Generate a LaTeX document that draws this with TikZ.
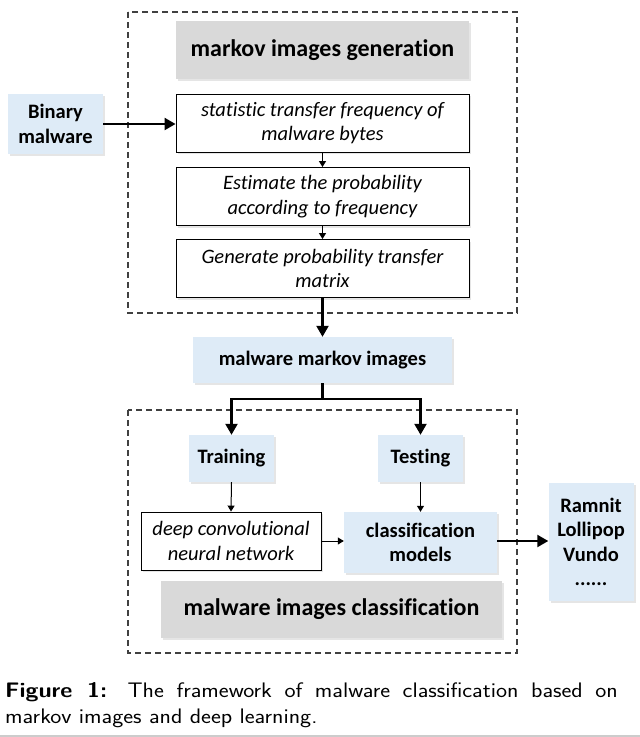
\documentclass[tikz,border=0pt]{standalone}
\usepackage{fontspec}
\setmainfont[Ligatures=NoCommon]{Carlito}
\usetikzlibrary{arrows.meta,shadows}
\definecolor{lblue}{HTML}{DEEBF7}
\definecolor{lgray}{HTML}{D9D9D9}
\definecolor{dashgray}{HTML}{404040}
\begin{document}
\begin{tikzpicture}[x=1pt,y=-1pt,
  sh/.style={drop shadow={shadow xshift=2pt,shadow yshift=-2pt,opacity=0.10,fill=black}},
  wbox/.style={sh,draw=black, line width=0.9pt, fill=white, inner sep=0pt, align=center,
     font=\itshape\fontsize{20.5}{24.5}\selectfont},
  bbox/.style={sh,fill=lblue, inner sep=0pt, align=center,
     font=\bfseries\fontsize{20.5}{24.5}\selectfont},
  gbox/.style={sh,fill=lgray, inner sep=0pt, align=center,
     font=\bfseries\fontsize{24}{28}\selectfont},
  bigarrow/.style={line width=2.2pt, -{Triangle[length=11pt,width=12pt]}},
  smallarrow/.style={line width=1pt, -{Triangle[length=6pt,width=7pt]}},
  dashbox/.style={draw=dashgray, line width=1.2pt, dash pattern=on 6pt off 4pt}]
\useasboundingbox (0,0) rectangle (640,737);
\fill[white] (0,0) rectangle (640,737);

% dashed frames
\draw[dashbox] (128,12) rectangle (517,313);
\draw[dashbox] (128,410) rectangle (517,653);

% generation part
\node[gbox, minimum width=293pt, minimum height=58pt] (gen) at (322.5,50) {markov images generation};
\node[wbox, minimum width=293pt, minimum height=58pt] (stat) at (322.5,123)
  {statistic transfer frequency of\\malware bytes};
\node[wbox, minimum width=293pt, minimum height=58pt] (est) at (322.5,196.5)
  {Estimate the probability\\according to frequency};
\node[wbox, minimum width=293pt, minimum height=58pt] (mat) at (322.5,268.5)
  {Generate probability transfer\\matrix};
\node[bbox, minimum width=95pt, minimum height=60pt] (bin) at (55.5,124) {Binary\\malware};

\draw[bigarrow] (bin.east) -- (stat.west |- bin.east);
\draw[smallarrow] (stat.south) -- (est.north);
\draw[smallarrow] (est.south) -- (mat.north);

% markov images
\node[bbox, minimum width=259pt, minimum height=46pt] (mmi) at (322.5,360) {malware markov images};
\draw[bigarrow] (mat.south) -- (mmi.north);

% classification part
\node[bbox, minimum width=85pt, minimum height=47pt] (train) at (231.5,458.5) {Training};
\node[bbox, minimum width=85pt, minimum height=47pt] (test) at (420.5,458.5) {Testing};
\coordinate (br) at (322.5,399);
\draw[line width=2.2pt] (mmi.south) -- (br);
\draw[bigarrow] (br) -| (train.north);
\draw[bigarrow] (br) -| (test.north);

\node[wbox, minimum width=180pt, minimum height=58pt] (cnn) at (231,541)
  {deep convolutional\\neural network};
\node[bbox, minimum width=153pt, minimum height=61pt] (cls) at (420.5,542.5)
  {classification\\models};
\draw[smallarrow] (train.south) -- (cnn.north);
\draw[smallarrow] (test.south) -- (test.south |- cls.north);
\draw[smallarrow] (cnn.east) -- (cls.west |- cnn.east);

\node[gbox, minimum width=341pt, minimum height=57pt] (clt) at (331.5,609.5) {malware images classification};

\node[bbox, minimum width=85pt, minimum height=118pt] (fam) at (591,542)
  {Ramnit\\Lollipop\\Vundo\\......};
\draw[bigarrow] (cls.east |- cnn.east) -- (fam.west |- cnn.east);

% caption
\node[anchor=base west, inner sep=0pt] (cap1) at (5,697)
  {\sffamily\fontsize{21}{26}\selectfont\scalebox{1.12}[1]{\makebox[547pt][s]{\textbf{Figure 1:} The framework of malware classification based on}}};
\node[anchor=base west, inner sep=0pt] (cap2) at (5,723)
  {\sffamily\fontsize{21}{26}\selectfont\scalebox{1.12}[1]{markov images and deep learning.}};
\draw[black!20, line width=1.5pt] (0,736) -- (640,736);
\end{tikzpicture}
\end{document}
